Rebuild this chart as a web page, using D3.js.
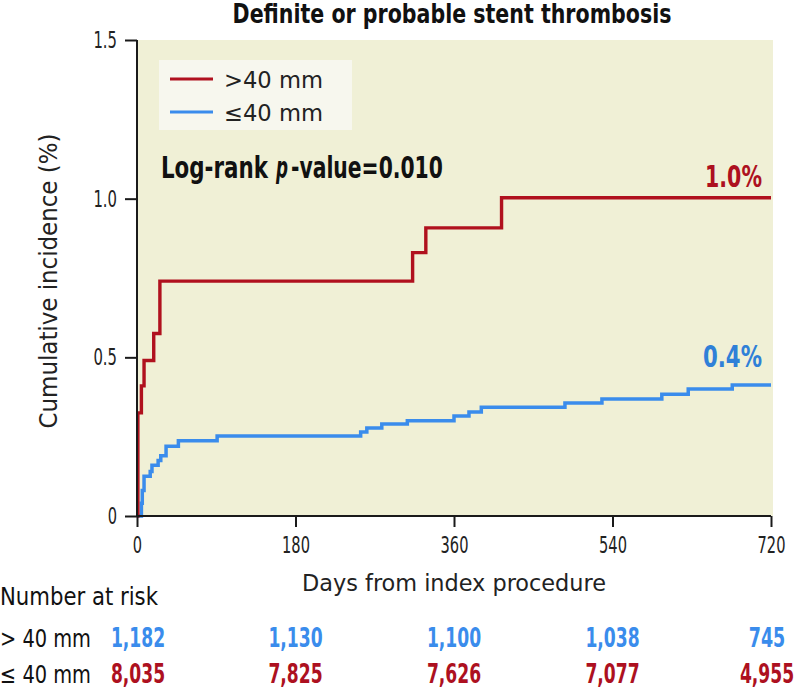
<!DOCTYPE html>
<html>
<head>
<meta charset="utf-8">
<script src="https://cdn.jsdelivr.net/npm/d3@7"></script>
<style>
  html, body { margin: 0; padding: 0; background: #ffffff; }
  svg { display: block; }
  text { font-family: "Liberation Sans Narrow", "DejaVu Sans Condensed", "DejaVu Sans", sans-serif; font-stretch: condensed; }
</style>
</head>
<body>
<svg id="chart" width="802" height="693"></svg>
<script>
// ---- data ----
const title = "Definite or probable stent thrombosis";
const seriesNames = [">40 mm", "\u226440 mm"];
const seriesColors = ["#b0111e", "#3a8cec"];
// Kaplan-Meier style steps: [day, cumulative incidence %]
const redDays   = [0, 1, 5, 8, 19, 26, 313, 328, 414, 720];
const redValues = [0, 0.325, 0.41, 0.49, 0.575, 0.74, 0.83, 0.908, 1.003, 1.003];
const blueDays   = [0, 5, 6, 8, 15, 17, 24, 27, 33, 47, 91, 254, 261, 278, 307, 360, 377, 391, 486, 528, 596, 626, 676, 720];
const blueValues = [0, 0.04, 0.08, 0.125, 0.14, 0.16, 0.175, 0.19, 0.22, 0.237, 0.252, 0.265, 0.277, 0.29, 0.30, 0.315, 0.328, 0.343, 0.356, 0.369, 0.384, 0.40, 0.413, 0.413];
const xTicks = [0, 180, 360, 540, 720];
const yTicks = [0, 0.5, 1.0, 1.5];
const yTickLabels = ["0", "0.5", "1.0", "1.5"];
const endLabels = ["1.0%", "0.4%"];
const riskRowLabels = ["> 40 mm", "\u2264 40 mm"];
const riskRow1 = ["1,182", "1,130", "1,100", "1,038", "745"];
const riskRow2 = ["8,035", "7,825", "7,626", "7,077", "4,955"];
const riskRowColors = ["#3a8cec", "#ad1020"];

// ---- layout ----
const svg = d3.select("#chart");
const m = { left: 137, right: 771, top: 40, bottom: 516 };
const x = d3.scaleLinear().domain([0, 720]).range([m.left, m.right]);
const y = d3.scaleLinear().domain([0, 1.5]).range([m.bottom, m.top]);
const numW = s => s.split("").reduce((a, c) => a + (c === "," || c === "." ? 5.5 : 12.2), 0);
const tickW = s => s.split("").reduce((a, c) => a + (c === "." ? 5 : 9.3), 0);

// squeeze a text horizontally to a target width (condensed look) using a transform
function fit(sel, widthFn, pre) {
  sel.each(function (d, i) {
    const el = d3.select(this);
    const w = typeof widthFn === "function" ? widthFn.call(this, d, i) : widthFn;
    const nat = this.getComputedTextLength();
    const s = nat > 0 ? w / nat : 1;
    const xx = +el.attr("x") || 0;
    const yy = +el.attr("y") || 0;
    el.attr("x", 0).attr("y", 0)
      .attr("transform", `${pre || ""} translate(${xx},${yy}) scale(${s.toFixed(4)},1)`);
  });
  return sel;
}

// plot background
svg.append("rect")
  .attr("x", x(0)).attr("y", y(1.5))
  .attr("width", x(720) - x(0) + 2).attr("height", y(0) - y(1.5))
  .attr("fill", "#f0f0d6");

// title
fit(svg.append("text")
  .attr("x", 452).attr("y", 23)
  .attr("text-anchor", "middle")
  .attr("font-size", 26).attr("font-weight", "bold").attr("fill", "#111")
  .text(title), 439);

// legend box
svg.append("rect")
  .attr("x", 159).attr("y", 60).attr("width", 193).attr("height", 70)
  .attr("fill", "#f7f7ee");
const legY = [79, 112];
seriesNames.forEach((name, i) => {
  svg.append("line")
    .attr("x1", 170).attr("x2", 213).attr("y1", legY[i]).attr("y2", legY[i])
    .attr("stroke", seriesColors[i]).attr("stroke-width", 3);
  fit(svg.append("text")
    .attr("x", 224).attr("y", legY[i] + 9)
    .attr("font-size", 23).attr("fill", "#222")
    .text(name), 99);
});

// log-rank text (three pieces)
const lrParts = [
  { t: "Log-rank", x0: 161, w: 107, italic: false },
  { t: "p", x0: 276, w: 12, italic: true },
  { t: "-value=0.010", x0: 291, w: 152, italic: false }
];
lrParts.forEach(p => {
  fit(svg.append("text")
    .attr("x", p.x0).attr("y", 178)
    .attr("font-size", 31).attr("font-weight", "bold").attr("fill", "#111")
    .attr("font-style", p.italic ? "italic" : "normal")
    .text(p.t), p.w);
});

// curves
const line = d3.line()
  .x(d => x(d[0])).y(d => y(d[1]))
  .curve(d3.curveStepAfter);
const blueData = blueDays.map((d, i) => [d, blueValues[i]]);
const redData = redDays.map((d, i) => [d, redValues[i]]);
svg.append("path").datum(blueData)
  .attr("d", line).attr("fill", "none")
  .attr("stroke", seriesColors[1]).attr("stroke-width", 3.5);
svg.append("path").datum(redData)
  .attr("d", line).attr("fill", "none")
  .attr("stroke", seriesColors[0]).attr("stroke-width", 3.4);

// end labels
fit(svg.append("text")
  .attr("x", 705).attr("y", 187)
  .attr("font-size", 30).attr("font-weight", "bold").attr("fill", "#ad1020")
  .text(endLabels[0]), 57);
fit(svg.append("text")
  .attr("x", 703).attr("y", 367)
  .attr("font-size", 30).attr("font-weight", "bold").attr("fill", "#2f80d8")
  .text(endLabels[1]), 59);

// axes
const yAxis = d3.axisLeft(y).tickValues(yTicks)
  .tickFormat((d, i) => yTickLabels[i]).tickSize(12).tickPadding(8);
const gy = svg.append("g").attr("transform", `translate(${m.left},0)`).call(yAxis);
const xAxis = d3.axisBottom(x).tickValues(xTicks).tickSize(11).tickPadding(10);
const gx = svg.append("g").attr("transform", `translate(0,${m.bottom})`).call(xAxis);
[gx, gy].forEach(g => {
  g.select(".domain").attr("stroke", "#1a1a1a").attr("stroke-width", 2);
  g.selectAll(".tick line").attr("stroke", "#1a1a1a").attr("stroke-width", 2);
  const t = g.selectAll(".tick text").attr("font-size", 23).attr("fill", "#222")
    .style("font-family", '"Liberation Sans Narrow", "DejaVu Sans Condensed", "DejaVu Sans", sans-serif');
  fit(t, function () { return tickW(this.textContent); });
});
gx.select(".domain").attr("d", `M${m.left},0H${m.right}`);
gy.select(".domain").attr("d", `M0,${m.bottom}V${m.top}`);

// axis titles
fit(svg.append("text")
  .attr("text-anchor", "middle")
  .attr("font-size", 25).attr("fill", "#222")
  .text("Cumulative incidence (%)"), 295, "translate(57,281) rotate(-90)");
fit(svg.append("text")
  .attr("x", 454).attr("y", 591).attr("text-anchor", "middle")
  .attr("font-size", 23).attr("fill", "#222")
  .text("Days from index procedure"), 304);

// number at risk
fit(svg.append("text")
  .attr("x", 0).attr("y", 605)
  .attr("font-size", 25).attr("fill", "#111")
  .text("Number at risk"), 158);
const rowY = [647, 683];
[riskRow1, riskRow2].forEach((row, r) => {
  fit(svg.append("text")
    .attr("x", 0).attr("y", rowY[r])
    .attr("font-size", 25).attr("fill", "#111")
    .text(riskRowLabels[r]), 91);
  const nums = svg.selectAll(null).data(row).enter().append("text")
    .attr("x", (d, i) => x(xTicks[i]) + (i === 0 ? 1 : 0) - (i === xTicks.length - 1 ? 4 : 0))
    .attr("y", rowY[r])
    .attr("text-anchor", "middle")
    .attr("font-size", 27).attr("font-weight", "bold").attr("fill", riskRowColors[r])
    .text(d => d);
  fit(nums, d => numW(d));
});
</script>
</body>
</html>
